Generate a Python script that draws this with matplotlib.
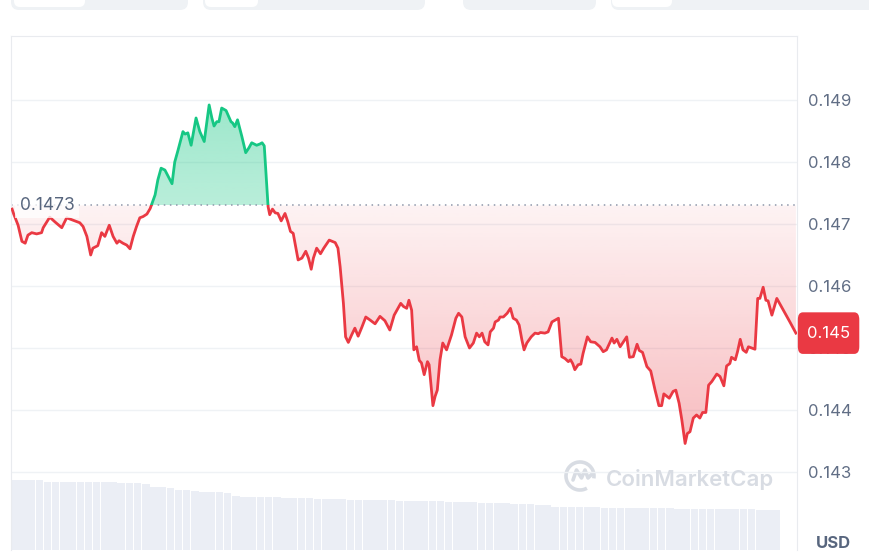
import numpy as np
import matplotlib.pyplot as plt
import matplotlib.transforms as mtransforms
from matplotlib.colors import to_rgb
from matplotlib.patches import FancyBboxPatch, Arc, Rectangle
from matplotlib.lines import Line2D
from matplotlib.path import Path

plt.rcParams['font.family'] = ['Inter', 'DejaVu Sans']

W, H = 869, 558

# time of day in minutes, price in USD
minutes = [2, 5, 13, 20, 26, 31, 38, 47, 56, 59, 71, 81, 93, 102, 114, 126, 132, 139, 146, 150,
           159, 166, 172, 180, 187, 194, 198, 205, 212, 218, 224, 230, 236, 242, 249, 255,
           264, 269, 275, 282, 295, 300, 306, 315, 319, 324, 330, 339, 346, 354, 363, 368, 372,
           377, 381, 386, 394, 403, 406, 410, 415, 423, 430, 436, 441, 450, 456, 460, 464, 471,
           474, 479, 484, 489, 495, 502, 507, 512, 517, 526,
           533, 540, 545, 550, 554, 560, 567, 573, 583, 594,
           599, 603, 609, 613, 618, 624, 630, 636, 643, 650,
           658, 667, 676, 685, 694, 702, 707, 714, 719, 725,
           729, 734, 738, 743, 748, 752, 757, 763, 766, 773,
           777, 781, 786, 791, 798, 807, 815, 820, 826, 832,
           840, 847, 853, 858, 863, 868, 874, 878, 884, 887,
           893, 896, 902, 909, 915, 920, 926, 931, 936, 940,
           945, 953, 960, 966, 970, 978, 984, 991, 997, 1003,
           1009, 1015, 1021, 1025, 1029, 1033, 1039, 1044, 1048, 1056,
           1062, 1070, 1079, 1085, 1091, 1101, 1105, 1110, 1116, 1122,
           1128, 1133, 1140, 1147, 1151, 1157, 1165, 1172, 1180, 1187,
           1192, 1196, 1206, 1213, 1218, 1224, 1229, 1235, 1239, 1244,
           1250, 1256, 1262, 1267, 1273, 1278, 1284, 1293, 1299, 1306,
           1311, 1317, 1320, 1327, 1331, 1336, 1341, 1347, 1351, 1357,
           1363, 1368, 1372, 1378, 1383, 1387, 1394, 1403, 1415, 1427,
           1438]

prices = [0.14724, 0.14716, 0.14698, 0.14672, 0.14669, 0.14682, 0.14686, 0.14684, 0.14686, 0.14694,
          0.14711, 0.14703, 0.14694, 0.14710, 0.14706, 0.14702, 0.14696, 0.14680, 0.14650, 0.14661,
          0.14665, 0.14686, 0.14680, 0.14698, 0.14680, 0.14669, 0.14673, 0.14669, 0.14666, 0.14660,
          0.14680, 0.14696, 0.14710, 0.14712, 0.14716, 0.14725,
          0.14747, 0.14771, 0.14790, 0.14787, 0.14765, 0.14800, 0.14819, 0.14849, 0.14845, 0.14847,
          0.14827, 0.14871, 0.14849, 0.14833, 0.14892, 0.14871, 0.14858, 0.14865, 0.14865, 0.14887,
          0.14883, 0.14865, 0.14863, 0.14857, 0.14868, 0.14841, 0.14815, 0.14823, 0.14831, 0.14827,
          0.14829, 0.14831, 0.14826, 0.14728,
          0.14715, 0.14724, 0.14718, 0.14717, 0.14705, 0.14717, 0.14704, 0.14688, 0.14685, 0.14642,
          0.14645, 0.14656, 0.14645, 0.14627, 0.14645, 0.14661, 0.14652, 0.14661, 0.14674, 0.14670,
          0.14661, 0.14631, 0.14572, 0.14518, 0.14509, 0.14521, 0.14532, 0.14519, 0.14534, 0.14550,
          0.14545, 0.14539, 0.14551, 0.14544, 0.14529, 0.14553, 0.14561, 0.14572, 0.14567, 0.14564,
          0.14577, 0.14561, 0.14497, 0.14502, 0.14480, 0.14476, 0.14457, 0.14478, 0.14473, 0.14407,
          0.14422, 0.14432, 0.14481, 0.14508, 0.14497, 0.14521, 0.14548, 0.14556, 0.14550, 0.14518,
          0.14500, 0.14508, 0.14524, 0.14518, 0.14524, 0.14510, 0.14505, 0.14526, 0.14532, 0.14542,
          0.14545, 0.14550, 0.14550, 0.14556, 0.14564, 0.14548, 0.14545, 0.14537, 0.14513, 0.14497,
          0.14508, 0.14518, 0.14524, 0.14523, 0.14525, 0.14524, 0.14526, 0.14542, 0.14545, 0.14548,
          0.14486, 0.14483, 0.14478, 0.14481, 0.14475, 0.14465, 0.14473, 0.14474, 0.14491, 0.14518,
          0.14510, 0.14509, 0.14502, 0.14494, 0.14497, 0.14516, 0.14508, 0.14514, 0.14502, 0.14510,
          0.14518, 0.14485, 0.14486, 0.14506, 0.14496, 0.14493, 0.14470, 0.14463, 0.14432, 0.14407,
          0.14407, 0.14426, 0.14419, 0.14430, 0.14432, 0.14411, 0.14384, 0.14346, 0.14362, 0.14365,
          0.14387, 0.14392, 0.14387, 0.14396, 0.14396, 0.14440, 0.14446, 0.14458, 0.14454, 0.14439,
          0.14471, 0.14475, 0.14485, 0.14481, 0.14494, 0.14514, 0.14497, 0.14493, 0.14502, 0.14500,
          0.14498, 0.14580, 0.14580, 0.14598, 0.14577, 0.14576, 0.14553, 0.14580, 0.14561, 0.14542,
          0.14524]

# 15-minute volume (relative units)
volumes = [7.0, 7.0, 6.98, 6.98,
           6.85, 6.83, 6.83, 6.82, 6.83, 6.8, 6.8, 6.78, 6.78,
           6.7, 6.7, 6.68, 6.6,
           6.35, 6.3, 6.25, 6.05, 6.0, 5.95,
           5.85, 5.8, 5.8, 5.75,
           5.4, 5.35, 5.35, 5.3, 5.3, 5.28, 5.25, 5.25, 5.2, 5.2,
           5.12, 5.1, 5.1, 5.08, 5.05, 5.05, 5.0, 5.0, 5.0, 4.98, 4.95,
           4.92, 4.9, 4.9, 4.88, 4.88, 4.85, 4.85, 4.82, 4.8,
           4.72, 4.7, 4.7, 4.68, 4.65, 4.62, 4.6, 4.55, 4.5,
           4.35, 4.32, 4.3, 4.3, 4.28, 4.28, 4.25, 4.25, 4.22, 4.22, 4.2, 4.2, 4.2, 4.18,
           4.18, 4.15, 4.15, 4.15, 4.12, 4.12, 4.1, 4.1, 4.1, 4.08, 4.08, 4.05, 4.05, 4.05]
vol_step = 15

open_price = 0.1473
open_label = '0.1473'
price_ticks = [0.143, 0.144, 0.145, 0.146, 0.147, 0.148, 0.149]
last_label = '0.145'
currency = 'USD'

green = '#16c784'
red = '#ea3943'
txt = '#616e85'


def px_rect(x0, y0, x1, y1):
    return [x0 / W, 1 - y1 / H, (x1 - x0) / W, (y1 - y0) / H]


fig = plt.figure(figsize=(W / 100, H / 100), dpi=100)
fig.patch.set_facecolor('white')

ax = fig.add_axes(px_rect(11, 36, 797, 550))
axv = fig.add_axes(px_rect(11, 36, 797, 550), sharex=ax)
axv.set_zorder(1)
ax.set_zorder(2)
ax.patch.set_visible(False)

# volume
vt = np.arange(len(volumes)) * vol_step
axv.bar(vt, volumes, width=vol_step * 0.92, align='edge', color='#ebeef5', lw=0)
axv.set_ylim(0, 51.4)
axv.axis('off')

t = np.array(minutes)
p = np.array(prices)

up = ax.fill_between(t, p, open_price, where=p >= open_price, interpolate=True, color='none', lw=0)
dn = ax.fill_between(t, p, open_price, where=p <= open_price, interpolate=True, color='none', lw=0)


def gradient(coll, color, a_lo, a_hi, y_lo, y_hi):
    img = np.zeros((256, 1, 4))
    img[..., :3] = to_rgb(color)
    img[:, 0, 3] = np.linspace(a_lo, a_hi, 256)
    im = ax.imshow(img, extent=(0, 1440, y_lo, y_hi), origin='lower', aspect='auto',
                   interpolation='bilinear', zorder=1)
    im.set_clip_path(Path.make_compound_path(*coll.get_paths()), ax.transData)


gradient(up, green, 0.3, 0.42, open_price, p.max())
gradient(dn, red, 0.34, 0.06, p.min(), open_price)
ax.set_xlim(0, 1440)
ax.set_ylim(0.141742, 0.150032)

for col, clip in [(green, Rectangle((0, open_price), 1440, 1, transform=ax.transData)),
                  (red, Rectangle((0, 0), 1440, open_price, transform=ax.transData))]:
    ln, = ax.plot(t, p, color=col, lw=2.0, zorder=3, solid_joinstyle='round')
    ln.set_clip_path(clip)

ax.axhline(open_price, color='#8e97aa', ls=(0, (1, 3)), lw=1.1, zorder=2.5)
ax.text(16, open_price, open_label, ha='left', va='center', fontsize=12.5, color='#58667e', zorder=4,
        bbox=dict(boxstyle='square,pad=0.25', fc='white', ec='none', alpha=0.75))

ax.set_yticks(price_ticks)
ax.set_yticklabels([f'{v:.3f}' for v in price_ticks])
ax.yaxis.tick_right()
ax.tick_params(axis='y', length=0, pad=8, labelsize=12, labelcolor=txt)
ax.set_xticks([])
ax.grid(axis='y', color='#eff2f5', lw=1)
ax.set_axisbelow(True)
for s in ['top', 'left', 'right']:
    ax.spines[s].set_color('#e9ebef')
ax.spines['bottom'].set_visible(False)

trans = mtransforms.blended_transform_factory(ax.transAxes, ax.transData)
ax.text(1 + 10 / 786, prices[-1], last_label, transform=trans, ha='left', va='center',
        color='white', fontsize=12, zorder=6, clip_on=False,
        bbox=dict(boxstyle='round,pad=0.55,rounding_size=0.3', fc=red, ec='none',
                  mutation_aspect=1.45))

fig.text(833 / W, 1 - 544 / H, currency, ha='center', va='center', fontsize=12,
         fontweight='bold', color='#58667e')

# watermark
wm = '#d8dce3'
fig.text(606 / W, 1 - 479 / H, 'CoinMarketCap', ha='left', va='center', fontsize=16,
         fontweight='semibold', color=wm)
fig.add_artist(Arc((580 / W, 1 - 476 / H), 28 / W, 28 / H, theta1=-15, theta2=290,
                   transform=fig.transFigure, color=wm, lw=2.6))
mx = np.array([-7, -3.5, 1.5, 5, 8, 12]) + 580
my = np.array([-4, 6, -2, 6, -2, 2]) - 476
fig.add_artist(Line2D(mx / W, 1 + my / H, transform=fig.transFigure, color=wm, lw=2.6,
                      solid_joinstyle='round', solid_capstyle='round'))

# top tabs (cut off)
ident = mtransforms.IdentityTransform()
for x0, x1, inner in [(11, 188, (14, 85)), (203, 425, (205, 258)), (463, 596, None), (611, 880, (612, 672))]:
    fig.add_artist(FancyBboxPatch((x0, H - 10), x1 - x0, 30, boxstyle='round,pad=0,rounding_size=8',
                                  transform=ident, fc='#eff2f5', ec='none'))
    if inner:
        fig.add_artist(FancyBboxPatch((inner[0], H - 7), inner[1] - inner[0], 30,
                                      boxstyle='round,pad=0,rounding_size=6',
                                      transform=ident, fc='white', ec='none'))

fig.savefig('out.png', dpi=100)
